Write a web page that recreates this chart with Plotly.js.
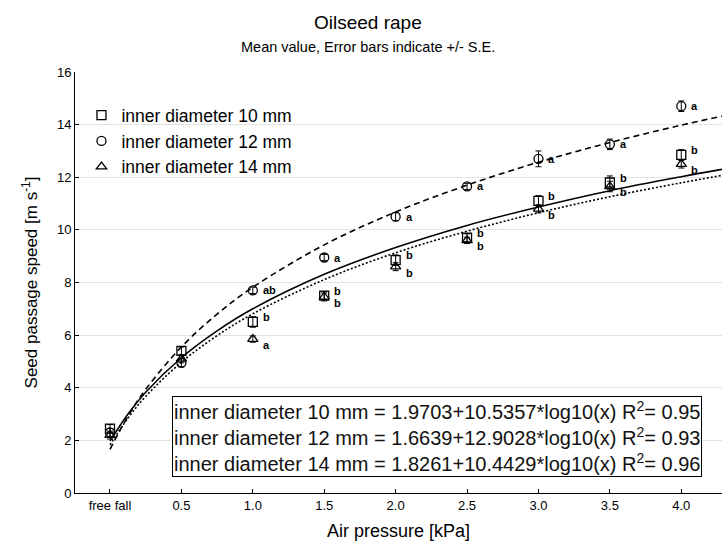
<!DOCTYPE html>
<html><head><meta charset="utf-8">
<script src="https://cdn.plot.ly/plotly-3.0.1.min.js"></script>
<style>html,body{margin:0;padding:0;background:#fff}#c{width:722px;height:559px}</style>
</head><body><div id="c"></div>
<script>
const categories = ["free fall","0.5","1.0","1.5","2.0","2.5","3.0","3.5","4.0"];
const xPos = [1,2,3,4,5,6,7,8,9];
const d10 = [2.45,5.4,6.5,7.5,8.85,9.7,11.1,11.8,12.85];
const e10 = [0.15,0.15,0.2,0.15,0.2,0.15,0.2,0.25,0.2];
const d12 = [2.3,4.95,7.7,8.95,10.5,11.65,12.7,13.25,14.7];
const e12 = [0.15,0.15,0.12,0.12,0.15,0.12,0.3,0.2,0.2];
const d14 = [2.2,5.1,5.85,7.45,8.6,9.6,10.8,11.65,12.5];
const e14 = [0.15,0.15,0.12,0.15,0.15,0.12,0.15,0.2,0.15];
const let10 = ["","","b","b","b","b","b","b","b"];
const let12 = ["","","ab","a","a","a","a","a","a"];
const let14 = ["","","a","b","b","b","b","b","b"];
// fitted curves, values
const curveX = [1,1.25,1.5,2,2.5,3,4,5,6,7,8,9,9.57];
const fit10 = [1.97,2.99,3.83,5.14,6.16,7.0,8.31,9.33,10.17,10.87,11.49,12.02,12.3];
const fit12 = [1.66,2.91,3.94,5.55,6.8,7.82,9.43,10.68,11.7,12.57,13.32,13.98,14.32];
const fit14 = [1.83,2.84,3.67,4.97,5.98,6.81,8.11,9.13,9.95,10.65,11.26,11.79,12.07];
const names = ["inner diameter 10 mm","inner diameter 12 mm","inner diameter 14 mm"];
const eqText = "inner diameter 10 mm = 1.9703+10.5357*log10(x) R<sup>2</sup>= 0.95<br>inner diameter 12 mm = 1.6639+12.9028*log10(x) R<sup>2</sup>= 0.93<br>inner diameter 14 mm = 1.8261+10.4429*log10(x) R<sup>2</sup>= 0.96";

const F = "Liberation Sans, Arial, sans-serif";
function pts(y, e, sym, name){
  return {x:xPos, y:y, type:'scatter', mode:'markers', name:name,
    marker:{symbol:sym, size:9, color:'#000', line:{color:'#000', width:1.3}},
    error_y:{type:'data', array:e, visible:true, color:'#000', thickness:1, width:3}};
}
function fit(y, dash){
  return {x:curveX, y:y, type:'scatter', mode:'lines', showlegend:false, hoverinfo:'skip',
    line:{color:'#000', width:1.6, dash:dash, shape:'spline'}};
}
const data = [
  fit(fit10,'solid'), fit(fit12,'6px,4px'), fit(fit14,'2px,2px'),
  pts(d10,e10,'square-open',names[0]), pts(d12,e12,'circle-open',names[1]), pts(d14,e14,'triangle-up-open',names[2])
];
const ann = [];
function addLetters(arr, ys, yshift){
  for (let i=0;i<arr.length;i++){ if(!arr[i]) continue;
    ann.push({x:xPos[i], y:ys[i], text:arr[i], showarrow:false, xanchor:'left', xshift:8, yshift:yshift,
      font:{family:F, size:11, color:'#000', weight:'bold'}});
  }
}
addLetters(let12, d12, 0);
addLetters(let10, d10, 5);
addLetters(let14, d14, -6);
ann.push({xref:'paper', yref:'paper', x:0.15, y:0.231, xanchor:'left', yanchor:'top', align:'left',
  text:eqText, showarrow:false, bordercolor:'#000', borderwidth:1, borderpad:1, bgcolor:'#fff',
  font:{family:F, size:20, color:'#111'}});
ann.push({xref:'paper', yref:'paper', x:0.453, y:1, yshift:50, yanchor:'middle', text:'Oilseed rape', showarrow:false,
  font:{family:F, size:19, color:'#000'}});
ann.push({xref:'paper', yref:'paper', x:0.453, y:1, yshift:25, yanchor:'middle', text:'Mean value, Error bars indicate +/- S.E.', showarrow:false,
  font:{family:F, size:14.5, color:'#000'}});

const layout = {
  width:722, height:559, margin:{l:75, r:0, t:72, b:66},
  paper_bgcolor:'#fff', plot_bgcolor:'#fff', font:{family:F, color:'#000'},
  showlegend:true,
  legend:{x:0.01, y:0.94, xanchor:'left', yanchor:'top', bgcolor:'rgba(0,0,0,0)', font:{family:F, size:17.5, color:'#000'}, tracegroupgap:0},
  xaxis:{range:[0.51,9.57], tickvals:xPos, ticktext:categories, ticks:'inside', ticklen:4, tickcolor:'#000',
    showgrid:false, zeroline:false, showline:true, linecolor:'#000', linewidth:1,
    tickfont:{family:F, size:13}, title:{text:'Air pressure [kPa]', font:{family:F, size:18}, standoff:12}},
  yaxis:{range:[0,16], dtick:2, ticks:'inside', ticklen:4, tickcolor:'#000', showgrid:true, gridcolor:'#e3e3e3',
    zeroline:false, showline:true, linecolor:'#000', linewidth:1,
    tickfont:{family:F, size:13}, title:{text:'Seed passage speed [m s<sup>-1</sup>]', font:{family:F, size:17}, standoff:14}},
  annotations:ann
};
Plotly.newPlot('c', data, layout, {displayModeBar:false, staticPlot:true});
</script></body></html>
